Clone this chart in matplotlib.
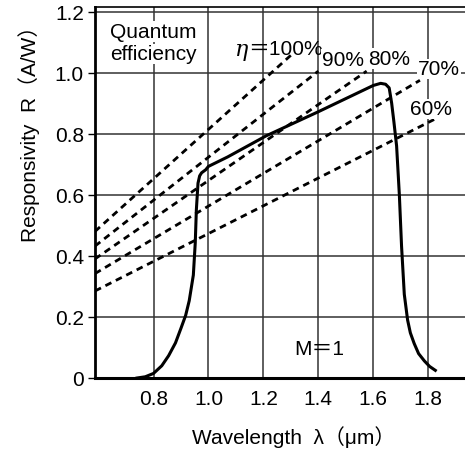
import matplotlib
matplotlib.use("Agg")
import matplotlib.pyplot as plt

plt.rcParams['font.family'] = ['Liberation Sans', 'Noto Sans CJK JP']

# responsivity curve (M=1)
wavelength = [0.74, 0.77, 0.80, 0.83, 0.855, 0.88, 0.90, 0.917, 0.93, 0.945,
              0.952, 0.956, 0.962, 0.968, 0.975, 0.99, 1.0, 1.07, 1.21, 1.40,
              1.60, 1.627, 1.645, 1.658, 1.667, 1.675, 1.685, 1.695, 1.703, 1.713,
              1.725, 1.735, 1.749, 1.765, 1.786, 1.805, 1.826]
responsivity = [0.0, 0.004, 0.015, 0.04, 0.073, 0.115, 0.163, 0.205, 0.253, 0.337,
                0.443, 0.551, 0.638, 0.662, 0.672, 0.682, 0.693, 0.724, 0.793, 0.872,
                0.958, 0.965, 0.962, 0.95, 0.90, 0.84, 0.76, 0.60, 0.432, 0.274,
                0.19, 0.148, 0.113, 0.08, 0.056, 0.038, 0.025]

# quantum efficiency lines: start / end points
eta_labels = ['100%', '90%', '80%', '70%', '60%']
eta_x = [(0.587, 1.31), (0.587, 1.40), (0.587, 1.576), (0.587, 1.77), (0.587, 1.84)]
eta_y = [(0.48, 1.065), (0.432, 1.005), (0.39, 1.005), (0.342, 0.975), (0.285, 0.855)]

xticks = [0.8, 1.0, 1.2, 1.4, 1.6, 1.8]
yticks = [0, 0.2, 0.4, 0.6, 0.8, 1.0, 1.2]

fig = plt.figure(figsize=(4.65, 4.52), dpi=100)
ax = fig.add_axes([95 / 465, 73 / 452, 370 / 465, 371 / 452])
ax.set_xlim(0.587, 1.934)
ax.set_ylim(0, 1.215)

ax.set_xticks(xticks)
ax.set_xticklabels(['%.1f' % v for v in xticks])
ax.set_yticks(yticks)
ax.set_yticklabels(['0'] + ['%.1f' % v for v in yticks[1:]])
ax.tick_params(axis='x', length=0, pad=8, labelsize=15)
ax.tick_params(axis='y', length=5, width=1, pad=3, labelsize=15, direction='out')
ax.grid(True, color='#333333', linewidth=1.1, zorder=1)
ax.set_axisbelow(True)

ax.spines['right'].set_visible(False)
ax.spines['left'].set_linewidth(2.0)
ax.spines['bottom'].set_linewidth(2.2)
ax.spines['top'].set_linewidth(1.2)

for xs, ys in zip(eta_x, eta_y):
    ax.plot(xs, ys, color='black', linewidth=2.0, linestyle=(0, (2.4, 1.8)), zorder=3)

ax.plot(wavelength, responsivity, color='black', linewidth=2.2, zorder=4,
        solid_joinstyle='round')

box = dict(facecolor='white', edgecolor='none', pad=0.5)
ax.text(0.642, 1.135, 'Quantum', fontsize=15, va='center', ha='left', bbox=box, zorder=5)
ax.text(0.642, 1.062, 'efficiency', fontsize=15, va='center', ha='left', bbox=box, zorder=5)

ax.text(1.146, 1.078, 'η', fontsize=16, style='italic', family='DejaVu Serif',
        va='center', ha='right', zorder=5)
ax.text(1.146, 1.078, '＝' + eta_labels[0], fontsize=15, va='center', ha='left', zorder=5)
ax.text(1.490, 1.043, eta_labels[1], fontsize=15, va='center', ha='center', bbox=box, zorder=5)
ax.text(1.657, 1.046, eta_labels[2], fontsize=15, va='center', ha='center', bbox=box, zorder=5)
ax.text(1.839, 1.013, eta_labels[3], fontsize=15, va='center', ha='center', bbox=box, zorder=5)
ax.text(1.810, 0.882, eta_labels[4], fontsize=15, va='center', ha='center', bbox=box, zorder=5)
ax.text(1.402, 0.095, 'M＝1', fontsize=15, va='center', ha='center', zorder=5)

ax.set_xlabel('Wavelength  λ（μm）', fontsize=15)
ax.set_ylabel('Responsivity  R（A/W）', fontsize=15)
ax.xaxis.set_label_coords(0.538, -0.128)
ax.yaxis.set_label_coords(-0.148, 0.675)

fig.savefig('out.png', dpi=100)
